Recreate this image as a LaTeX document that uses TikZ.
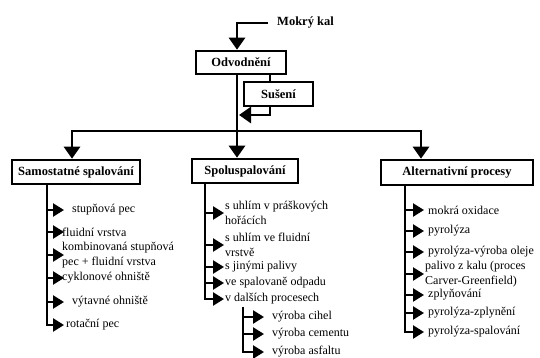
\documentclass[tikz,border=0pt]{standalone}
\usepackage{fontspec}
\setmainfont{Liberation Serif}
\usetikzlibrary{arrows.meta}
\begin{document}
\begin{tikzpicture}[x=1pt,y=-1pt,
  box/.style={draw,line width=2.6pt,font=\fontsize{12.5}{14}\selectfont\bfseries,inner sep=0pt,minimum height=23pt},
  mainline/.style={line width=2.8pt},
  main/.style={line width=2.8pt,-{Triangle[length=12pt,width=16pt]}},
  sub/.style={line width=2.4pt,-{Triangle[length=11pt,width=13pt]}},
  item/.style={anchor=west,inner sep=0pt,font=\fontsize{12}{15}\selectfont,align=left}
]
\useasboundingbox (0,0) rectangle (540,358);
% boxes
\node[font=\fontsize{12.5}{14}\selectfont\bfseries,anchor=west,inner xsep=9pt,inner ysep=0pt] (mk) at (268,23) {Mokrý kal};
\node[box,minimum width=90pt] (odv) at (241,62.5) {Odvodnění};
\node[box,minimum width=69pt,minimum height=24pt] (sus) at (278.5,94) {Sušení};
\node[box,minimum width=128pt,minimum height=24pt] (sam) at (76,172) {Samostatné spalování};
\node[box,minimum width=106pt,minimum height=24pt] (spo) at (245,171) {Spoluspalování};
\node[box,minimum width=152pt,minimum height=25pt] (alt) at (457,172.5) {Alternativní procesy};
% helper coordinates
\coordinate (mx) at (237,0);
\coordinate (sx) at (270,0);
\coordinate (bar) at (237,131);
\coordinate (bl) at (72,0);
\coordinate (br) at (421,0);
\coordinate (ret) at (239,115);
% main connectors
\draw[main] (mk.west) -| (odv.north -| mx);
\draw[main] (odv.south -| mx) -- (spo.north -| mx);
\draw[main] (bar) -| (sam.north -| bl);
\draw[main] (bar) -| (alt.north -| br);
\draw[mainline] (odv.south -| sx) -- (sus.north -| sx);
\draw[main] (sus.south -| sx) |- (ret);
% Samostatne spalovani list
\coordinate (t1) at (47,0); \coordinate (h1) at (64,0);
\node[item] (a1) at (72,210) {stupňová pec};
\node[item] (a2) at (62,232) {fluidní vrstva};
\node[item] (a3) at (62,255) {kombinovaná stupňová\\pec + fluidní vrstva};
\node[item] (a4) at (62,278) {cyklonové ohniště};
\node[item] (a5) at (72,302) {výtavné ohniště};
\node[item] (a6) at (66,325) {rotační pec};
\draw[sub] (sam.south -| t1) |- (a6.west -| h1);
\foreach \n in {a1,a2,a3,a4,a5} \draw[sub] (\n.west -| t1) -- (\n.west -| h1);
% Spoluspalovani list
\coordinate (t2) at (205,0); \coordinate (h2) at (224,0);
\node[item] (b1) at (225,213) {s uhlím v práškových\\hořácích};
\node[item] (b2) at (225,245) {s uhlím ve fluidní\\vrstvě};
\node[item] (b3) at (225,267) {s jinými palivy};
\node[item] (b4) at (225,283) {ve spalovaně odpadu};
\node[item] (b5) at (225,299) {v dalších procesech};
\draw[sub] (spo.south -| t2) |- (b5.west -| h2);
\foreach \n in {b1,b2,b3,b4} \draw[sub] (\n.west -| t2) -- (\n.west -| h2);
% sub list
\coordinate (s0) at (243,307); \coordinate (h3) at (264,0);
\node[item] (c1) at (272,317) {výroba cihel};
\node[item] (c2) at (272,334) {výroba cementu};
\node[item] (c3) at (272,352) {výroba asfaltu};
\draw[sub] (s0) |- (c3.west -| h3);
\foreach \n in {c1,c2} \draw[sub] (\n.west -| s0) -- (\n.west -| h3);
% Alternativni procesy list
\coordinate (t4) at (405,0); \coordinate (h4) at (424,0);
\node[item] (d1) at (428,210) {mokrá oxidace};
\node[item] (d2) at (428,231) {pyrolýza};
\node[item] (d3) at (428,252) {pyrolýza-výroba oleje};
\node[item] (d4) at (425,274) {palivo z kalu (proces\\Carver-Greenfield)};
\node[item] (d5) at (428,295) {zplyňování};
\node[item] (d6) at (428,313) {pyrolýza-zplynění};
\node[item] (d7) at (428,332) {pyrolýza-spalování};
\draw[sub] (alt.south -| t4) |- (d7.west -| h4);
\foreach \n in {d1,d2,d3,d4,d5,d6} \draw[sub] (\n.west -| t4) -- (\n.west -| h4);
\end{tikzpicture}
\end{document}
